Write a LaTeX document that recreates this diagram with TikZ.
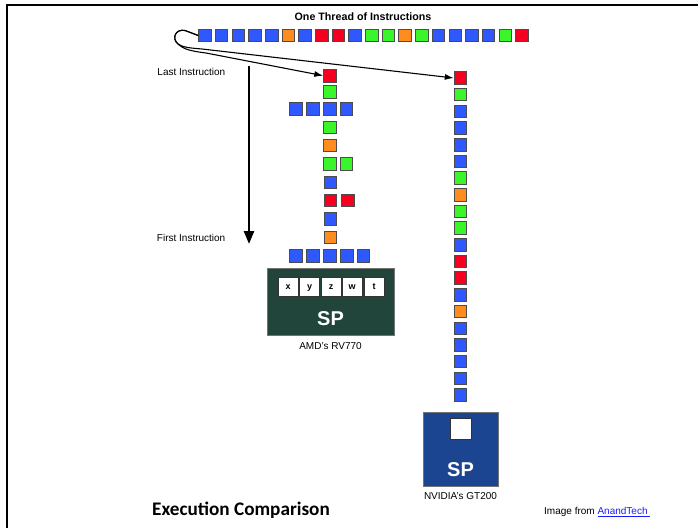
\documentclass[tikz,border=0pt]{standalone}
\usepackage{fontspec}
\setmainfont{Liberation Sans}
\newfontfamily\calib{Carlito}
\usetikzlibrary{arrows.meta}
\definecolor{cB}{HTML}{2F58FF}
\definecolor{cG}{HTML}{39F52A}
\definecolor{cO}{HTML}{FF8C1E}
\definecolor{cR}{HTML}{F5001E}
\definecolor{amdgreen}{HTML}{21453A}
\definecolor{nvblue}{HTML}{1B4590}
\definecolor{linkblue}{HTML}{1A1AFF}
\tikzset{
  sq/.style={draw=black!70, line width=0.9pt, minimum size=12.5pt, inner sep=0pt},
  lbl/.style={font=\fontsize{10}{12}\selectfont, inner sep=0pt},
  thinarr/.style={line width=1.1pt, -{Latex[length=9pt,width=6pt]}},
  bigarr/.style={line width=2.6pt, -{Triangle[length=13pt,width=10pt]}},
  spbox/.style={draw=black!55, line width=1pt, inner sep=0pt},
  reg/.style={draw=black!80, fill=white, line width=0.8pt, minimum width=20pt, minimum height=19pt, inner sep=0pt, text height=6.5pt, text depth=1pt, font=\bfseries\fontsize{9}{10}\selectfont},
  sptext/.style={text=white, font=\bfseries\fontsize{20}{22}\selectfont, inner sep=0pt}
}
\begin{document}
\begin{tikzpicture}[x=1pt,y=-1pt]
\useasboundingbox (0,0) rectangle (698,528);
% frame
\draw[line width=2pt] (7,528) -- (7,5) -- (698,5);
% title
\node[font=\bfseries\fontsize{10.7}{12}\selectfont] (title) at (363,17) {One Thread of Instructions};
% top row
\foreach \c [count=\i] in {B,B,B,B,B,O,B,R,R,B,G,G,O,G,B,B,B,B,G,R}
  \node[sq,fill=c\c] (t\i) at ({205+(\i-1)*16.68},35.5) {};
% AMD column
\node[sq,fill=cR] (a1) at (330,75.7) {};
\node[sq,fill=cG] (a2) at (330,92) {};
\node[sq,fill=cB] (a3a) at (296,108.7) {};
\node[sq,fill=cB] (a3b) at (313,108.7) {};
\node[sq,fill=cB] (a3c) at (330,108.7) {};
\node[sq,fill=cB] (a3d) at (346.5,108.7) {};
\node[sq,fill=cG] (a4) at (330,127.2) {};
\node[sq,fill=cO] (a5) at (330,145.3) {};
\node[sq,fill=cG] (a6a) at (330,163.8) {};
\node[sq,fill=cG] (a6b) at (346.5,163.8) {};
\node[sq,fill=cB] (a7) at (330.5,182.2) {};
\node[sq,fill=cR] (a8a) at (330.5,200.5) {};
\node[sq,fill=cR] (a8b) at (348,200.5) {};
\node[sq,fill=cB] (a9) at (330.5,218.8) {};
\node[sq,fill=cO] (a10) at (330.5,237.3) {};
\node[sq,fill=cB] (a11a) at (296,255.7) {};
\node[sq,fill=cB] (a11b) at (313,255.7) {};
\node[sq,fill=cB] (a11c) at (330,255.7) {};
\node[sq,fill=cB] (a11d) at (347,255.7) {};
\node[sq,fill=cB] (a11e) at (363.5,255.7) {};
% NVIDIA column
\foreach \c [count=\i] in {R,G,B,B,B,B,G,O,G,G,B,R,R,B,O,B,B,B,B,B}
  \node[sq,fill=c\c] (n\i) at (460.5,{78+(\i-1)*16.68}) {};
% AMD SP
\node[spbox,fill=amdgreen,minimum width=127pt,minimum height=67pt] (amd) at (330.5,301.5) {};
\node[reg] (rx) at (288,286.5) {x};
\node[reg] (ry) at (309.5,286.5) {y};
\node[reg] (rz) at (331,286.5) {z};
\node[reg] (rw) at (352,286.5) {w};
\node[reg] (rt) at (374,286.5) {t};
\node[sptext] (amdsp) at (330.5,318.5) {SP};
\node[lbl] (amdname) at (330.5,346) {AMD's RV770};
% NVIDIA SP
\node[spbox,fill=nvblue,minimum width=75pt,minimum height=74pt] (nv) at (460.5,449) {};
\node[draw=black!80,fill=white,line width=0.8pt,minimum size=21pt,inner sep=0pt] (nvreg) at (460.5,428.5) {};
\node[sptext] (nvsp) at (460.5,469.5) {SP};
\node[lbl] (nvname) at (460.5,496.5) {NVIDIA's GT200};
% curves
\draw[thinarr] (t1.west) -- (185,30.5) .. controls (176,28.5) and (171,38) .. (178,44)
  .. controls (183,49) and (190,51) .. (206,53) -- (a1.west);
\draw[thinarr] (t1.west) -- (185,30.5) .. controls (176,28.5) and (171,38) .. (178,44)
  .. controls (182,47) and (189,48) .. (202,49) -- (n1.west);
% vertical arrow
\coordinate (vtop) at (249,66);
\coordinate (vbot) at (249,244);
\draw[bigarr] (vtop) -- (vbot);
\node[lbl,anchor=east] (last) at (225.5,72) {Last Instruction};
\node[lbl,anchor=east] (first) at (225.5,238) {First Instruction};
% footer
\node[font=\calib\bfseries\fontsize{19.2}{21}\selectfont,anchor=west,inner sep=0pt] (exec) at (152,510) {Execution Comparison};
\node[lbl,anchor=west,font=\fontsize{10}{12}\selectfont] (img) at (544,512) {Image from \textcolor{linkblue}{\underline{AnandTech\ }}};
\end{tikzpicture}
\end{document}
